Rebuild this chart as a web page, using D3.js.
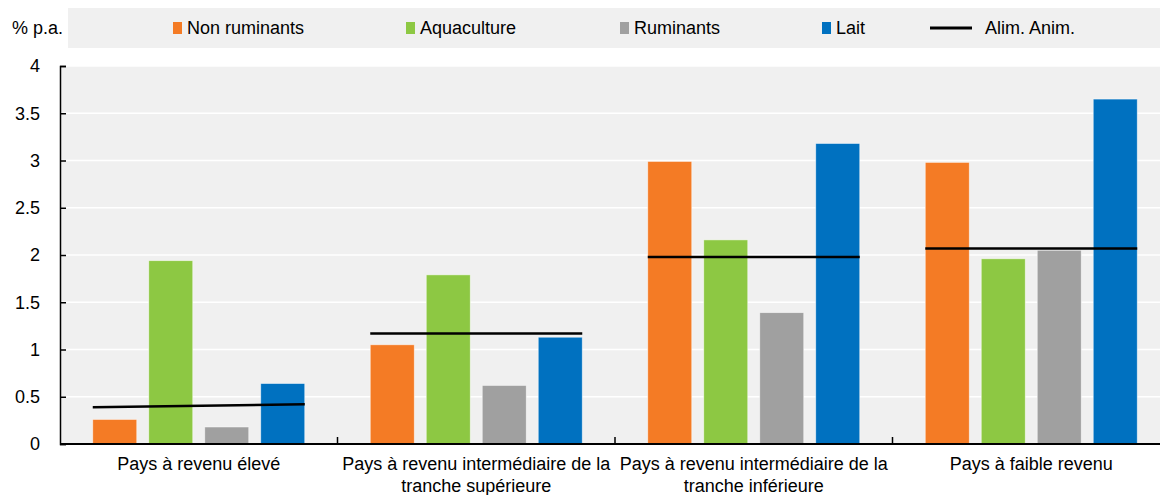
<!DOCTYPE html>
<html>
<head>
<meta charset="utf-8">
<script src="https://cdn.jsdelivr.net/npm/d3@7"></script>
<style>
  body { margin: 0; background: #fff; }
  text { font-family: "Liberation Sans Narrow", "Arial Narrow", "Liberation Sans", Arial, sans-serif; fill: #000; }
</style>
</head>
<body>
<div id="chart"></div>
<script>
// data
let categories = [
    ["Pays à revenu élevé"],
    ["Pays à revenu intermédiaire de la", "tranche supérieure"],
    ["Pays à revenu intermédiaire de la", "tranche inférieure"],
    ["Pays à faible revenu"]
];
let seriesNames = ["Non ruminants", "Aquaculture", "Ruminants", "Lait"];
let nonRuminants = [0.26, 1.05, 2.99, 2.98];
let aquaculture = [1.94, 1.79, 2.16, 1.96];
let ruminants = [0.18, 0.62, 1.39, 2.05];
let lait = [0.64, 1.13, 3.18, 3.65];
let alimAnimStart = [0.39, 1.17, 1.98, 2.07];
let alimAnimEnd = [0.42, 1.17, 1.98, 2.07];
let lineName = "Alim. Anim.";
let yTicks = [0, 0.5, 1, 1.5, 2, 2.5, 3, 3.5, 4];
let yTickLabels = ["0", "0.5", "1", "1.5", "2", "2.5", "3", "3.5", "4"];
let unitLabel = "% p.a.";

let colors = ["#f47b25", "#8dc843", "#a0a0a0", "#0071c0"];

function drawChart() {
    let win_width = 1160, win_height = 495;
    let margin = {top: 66, right: -10, bottom: 51, left: 60};
    let width = win_width - margin.left - margin.right;
    let height = win_height - margin.top - margin.bottom;

    let svg = d3.select("#chart").append("svg")
        .attr("width", win_width)
        .attr("height", win_height);

    // legend band
    svg.append("rect")
        .attr("x", 68).attr("y", 8)
        .attr("width", win_width - 68).attr("height", 40)
        .attr("fill", "#f0f0f0");

    svg.append("text")
        .attr("x", 12).attr("y", 34)
        .style("font-size", "18px")
        .text(unitLabel);

    let legendX = [173, 406, 620, 822];
    seriesNames.forEach(function(name, i) {
        svg.append("rect")
            .attr("x", legendX[i]).attr("y", 22)
            .attr("width", 9).attr("height", 12)
            .attr("fill", colors[i]);
        svg.append("text")
            .attr("x", legendX[i] + 14).attr("y", 34)
            .style("font-size", "18px")
            .text(name);
    });
    svg.append("line")
        .attr("x1", 930).attr("x2", 972)
        .attr("y1", 28).attr("y2", 28)
        .attr("stroke", "#000").attr("stroke-width", 3);
    svg.append("text")
        .attr("x", 985).attr("y", 34)
        .style("font-size", "18px")
        .text(lineName);

    let g = svg.append("g")
        .attr("transform", "translate(" + margin.left + "," + margin.top + ")");

    let y = d3.scaleLinear().domain([0, 4]).range([height, 0]);
    let x0 = d3.scaleBand().domain(d3.range(categories.length)).range([0, width]).padding(0);
    let x1 = d3.scaleBand().domain(d3.range(seriesNames.length))
        .range([0, 212]).paddingInner(0.214).paddingOuter(0);

    g.append("rect")
        .attr("width", width).attr("height", height)
        .attr("fill", "#f0f0f0");

    // grid
    g.selectAll(".grid")
        .data(yTicks.slice(1))
        .join("line")
        .attr("x1", 0).attr("x2", width)
        .attr("y1", d => y(d)).attr("y2", d => y(d))
        .attr("stroke", "#fff").attr("stroke-width", 1.5);

    let values = [nonRuminants, aquaculture, ruminants, lait];
    let groupOffset = (x0.bandwidth() - 212) / 2;

    categories.forEach(function(c, ci) {
        let grp = g.append("g")
            .attr("transform", "translate(" + (x0(ci) + groupOffset) + ",0)");
        grp.selectAll("rect")
            .data(values.map((v, si) => ({s: si, v: v[ci]})))
            .join("rect")
            .attr("x", d => x1(d.s))
            .attr("width", x1.bandwidth())
            .attr("y", d => y(d.v))
            .attr("height", d => height - y(d.v))
            .attr("fill", d => colors[d.s])
            .attr("stroke", "#fff").attr("stroke-opacity", 0.6).attr("stroke-width", 0.8);
    });

    // Alim. Anim. segments
    let line = d3.line().x(d => d[0]).y(d => y(d[1]));
    categories.forEach(function(c, ci) {
        let xs = x0(ci) + groupOffset;
        g.append("path")
            .attr("fill", "none")
            .attr("stroke", "#000")
            .attr("stroke-width", 2.5)
            .attr("d", line([[xs, alimAnimStart[ci]], [xs + 212, alimAnimEnd[ci]]]));
    });

    // y axis
    let yAxis = g.append("g")
        .call(d3.axisLeft(y).tickValues(yTicks).tickFormat((d, i) => yTickLabels[i]).tickSize(-6).tickPadding(20));
    yAxis.select(".domain").attr("stroke", "#000").attr("stroke-width", 1.5);
    yAxis.selectAll(".tick line").attr("stroke", "#000").attr("stroke-width", 1.5);
    yAxis.selectAll(".tick text").style("font-size", "18px")
        .attr("font-family", null);

    // x axis
    let xAxis = g.append("g")
        .attr("transform", "translate(0," + height + ")");
    xAxis.append("line")
        .attr("x1", 0).attr("x2", width)
        .attr("stroke", "#000").attr("stroke-width", 2);
    xAxis.selectAll(".xt")
        .data(d3.range(1, categories.length))
        .join("line")
        .attr("x1", d => x0(d)).attr("x2", d => x0(d))
        .attr("y1", 0).attr("y2", -7)
        .attr("stroke", "#000").attr("stroke-width", 1.5);

    categories.forEach(function(c, ci) {
        let t = xAxis.append("text")
            .attr("text-anchor", "middle")
            .attr("x", x0(ci) + x0.bandwidth() / 2)
            .attr("y", 26)
            .style("font-size", "18px");
        c.forEach(function(l, li) {
            t.append("tspan")
                .attr("x", x0(ci) + x0.bandwidth() / 2)
                .attr("dy", li === 0 ? 0 : 22)
                .text(l);
        });
    });
}

drawChart();
</script>
</body>
</html>
